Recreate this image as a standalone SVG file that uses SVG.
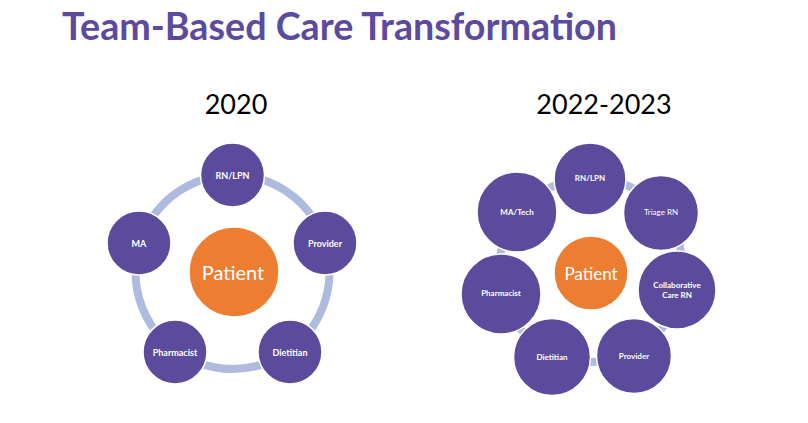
<svg xmlns="http://www.w3.org/2000/svg" width="808" height="423" viewBox="0 0 808 423">
<style>
.title{font-family:Lato,"Liberation Sans",sans-serif;font-weight:bold;font-size:38px;fill:#5b4a9e}
.year{font-family:Lato,"Liberation Sans",sans-serif;font-size:27px;fill:#000}
.ring{fill:none;stroke:#adbbdf;stroke-width:8}
.node{fill:#5c4b9c;stroke:#ffffff;stroke-width:1.5}
.pat{fill:#ed7d31;stroke:#ffffff;stroke-width:1.5}
.lbl{font-family:Lato,"Liberation Sans",sans-serif;font-weight:bold;fill:#fff;text-anchor:middle;dominant-baseline:central}
.l1{font-size:9px}
.l2{font-size:8px}
.reg{font-weight:normal}
.ptxt{font-family:Lato,"Liberation Sans",sans-serif;fill:#fff;text-anchor:middle;dominant-baseline:central}
</style>
<rect width="808" height="423" fill="#ffffff"/>
<text class="title" x="62" y="40" textLength="555" lengthAdjust="spacingAndGlyphs">Team-Based Care Transformation</text>
<text class="year" x="236" y="114" text-anchor="middle">2020</text>
<text class="year" x="604" y="114" text-anchor="middle">2022-2023</text>
<g id="connectors">
<circle class="ring" cx="232.5" cy="272" r="97"/>
<circle class="ring" cx="591" cy="270" r="92" stroke-width="7"/>
</g>
<g id="left-patient"><circle class="pat" cx="234" cy="272" r="45"/><text class="ptxt" x="233" y="272" font-size="20">Patient</text></g>
<g id="left-rnlpn"><circle class="node" cx="232.5" cy="175" r="32"/><text class="lbl l1" x="232.5" y="175">RN/LPN</text></g>
<g id="left-provider"><circle class="node" cx="325" cy="243" r="32"/><text class="lbl l1" x="325" y="243">Provider</text></g>
<g id="left-dietitian"><circle class="node" cx="290" cy="352" r="32"/><text class="lbl l1" x="290" y="352">Dietitian</text></g>
<g id="left-pharmacist"><circle class="node" cx="175" cy="352" r="32"/><text class="lbl l1" x="175" y="352">Pharmacist</text></g>
<g id="left-ma"><circle class="node" cx="139" cy="243" r="32"/><text class="lbl l1" x="139" y="243">MA</text></g>
<g id="right-patient"><circle class="pat" cx="591" cy="273" r="37"/><text class="ptxt" x="591" y="273" font-size="17">Patient</text></g>
<g id="right-rnlpn"><circle class="node" cx="590" cy="179" r="36"/><text class="lbl l2" x="590" y="178">RN/LPN</text></g>
<g id="right-triage"><circle class="node" cx="661" cy="213" r="37.5"/><text class="lbl l2 reg" x="661" y="212">Triage RN</text></g>
<g id="right-collab"><circle class="node" cx="677" cy="290" r="39"/><text class="lbl l2" x="677" y="285">Collaborative</text><text class="lbl l2" x="677" y="295">Care RN</text></g>
<g id="right-provider"><circle class="node" cx="634" cy="356" r="37.5"/><text class="lbl l2" x="634" y="356">Provider</text></g>
<g id="right-dietitian"><circle class="node" cx="552" cy="357" r="38.5"/><text class="lbl l2" x="552" y="357">Dietitian</text></g>
<g id="right-pharmacist"><circle class="node" cx="501" cy="294" r="40"/><text class="lbl l2" x="501" y="293">Pharmacist</text></g>
<g id="right-matech"><circle class="node" cx="517" cy="212" r="40"/><text class="lbl l2" x="517" y="212">MA/Tech</text></g>
</svg>
